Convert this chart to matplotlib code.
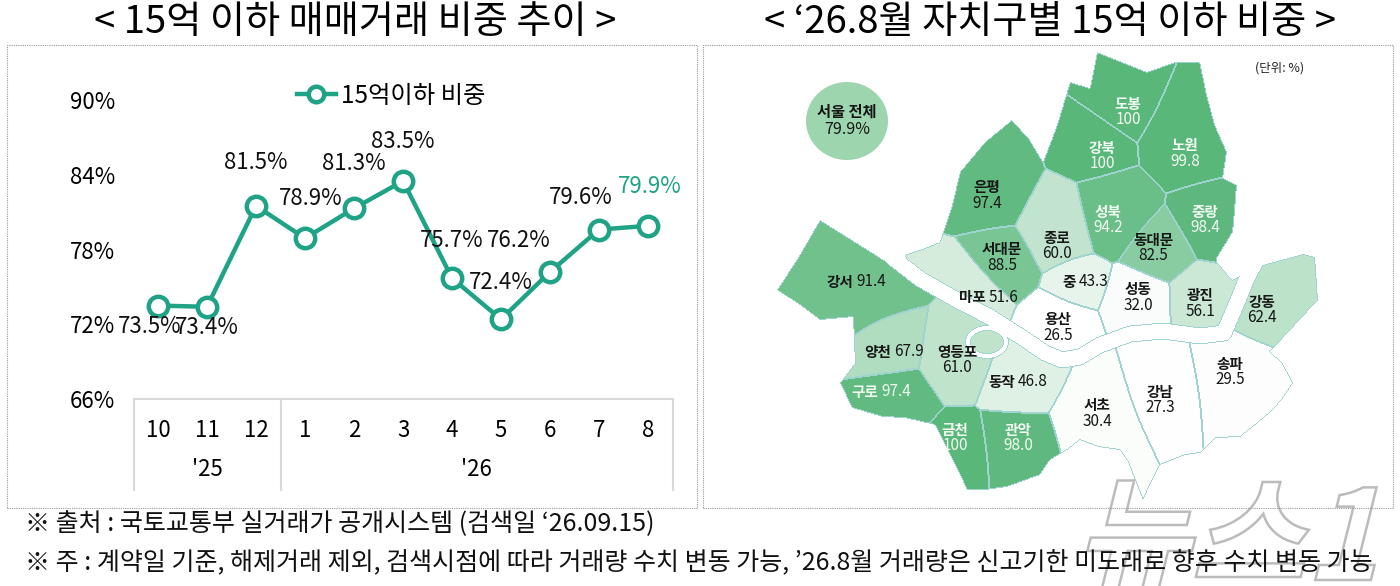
import numpy as np
import matplotlib
matplotlib.use("Agg")
import matplotlib.pyplot as plt
from matplotlib.path import Path
from matplotlib.colors import LinearSegmentedColormap, PowerNorm, to_rgba
from matplotlib.patches import Ellipse, Rectangle, PathPatch
from matplotlib.textpath import TextPath
from matplotlib.font_manager import FontProperties
from matplotlib.transforms import Affine2D

plt.rcParams['font.family'] = ['Noto Sans CJK KR', 'DejaVu Sans']

# ---- data: left chart ----
months = ['10', '11', '12', '1', '2', '3', '4', '5', '6', '7', '8']
years = ["'25", "'26"]
share = [73.5, 73.4, 81.5, 78.9, 81.3, 83.5, 75.7, 72.4, 76.2, 79.6, 79.9]
yticks = [66, 72, 78, 84, 90]

# ---- data: right map ----
districts = ['도봉', '노원', '강북', '은평', '성북', '중랑', '종로', '서대문', '동대문',
             '강서', '중', '마포', '성동', '광진', '강동', '용산', '양천', '영등포',
             '송파', '동작', '구로', '서초', '강남', '금천', '관악']
district_share = [100, 99.8, 100, 97.4, 94.2, 98.4, 60.0, 88.5, 82.5,
                  91.4, 43.3, 51.6, 32.0, 56.1, 62.4, 26.5, 67.9, 61.0,
                  29.5, 46.8, 97.4, 30.4, 27.3, 100, 98.0]
seoul_total = 79.9

# ---- layout (pixel coordinates of the 1400x586 canvas) ----
W, H = 1400, 586
teal = '#1fa386'

label_xy = {'도봉': (1128, 112), '노원': (1185, 153), '강북': (1102, 156), '은평': (987, 195),
            '성북': (1108, 220), '중랑': (1205, 220), '종로': (1057, 246), '서대문': (1002, 257),
            '동대문': (1153, 248), '강서': (855, 282), '중': (1078, 282), '마포': (988, 297),
            '성동': (1138, 297), '광진': (1200, 303), '강동': (1262, 310), '용산': (1058, 327),
            '양천': (893, 352), '영등포': (957, 360), '송파': (1230, 372), '동작': (1017, 382),
            '구로': (880, 392), '서초': (1097, 413), '강남': (1160, 400), '금천': (955, 438),
            '관악': (1018, 438)}
seed_xy = {'도봉': (1123, 100), '노원': (1190, 135), '강북': (1092, 145), '은평': (990, 190),
           '성북': (1110, 212), '중랑': (1213, 222), '종로': (1057, 225), '서대문': (1000, 258),
           '동대문': (1160, 252), '강서': (855, 280), '중': (1078, 282), '마포': (965, 290),
           '성동': (1140, 302), '광진': (1200, 300), '강동': (1275, 305), '용산': (1060, 330),
           '양천': (888, 347), '영등포': (955, 357), '송파': (1240, 390), '동작': (1022, 382),
           '구로': (895, 398), '서초': (1100, 425), '강남': (1165, 400), '금천': (958, 455),
           '관악': (1020, 448)}
seed_bias = {'강서': 20, '송파': 12, '서초': 12, '노원': 8, '은평': 8, '강남': 5, '관악': 5,
             '종로': 6, '성북': 4, '마포': 4, '중': -8, '동대문': -3}
south_bank = {'강서', '양천', '구로', '영등포', '금천', '관악', '동작', '서초', '강남', '송파', '강동'}
inline_names = {'강서', '중', '마포', '양천', '동작', '구로'}
light_text = {'도봉', '강북', '노원', '성북', '중랑', '구로', '금천', '관악'}

outline = [(777, 290), (798, 258), (820, 220), (868, 250), (912, 278), (905, 255), (925, 248),
           (940, 242), (952, 205), (960, 172), (985, 142), (1012, 120), (1030, 140), (1043, 162),
           (1057, 125), (1070, 82), (1090, 88), (1097, 52), (1147, 72), (1175, 62), (1200, 62),
           (1207, 95), (1215, 125), (1227, 152), (1223, 178), (1237, 185), (1235, 210),
           (1233, 232), (1217, 258), (1217, 262), (1232, 280), (1263, 265), (1303, 254),
           (1315, 257), (1318, 300), (1307, 312), (1270, 352), (1282, 362), (1293, 383),
           (1283, 398), (1273, 410), (1255, 425), (1240, 437), (1215, 438), (1200, 453),
           (1185, 455), (1160, 465), (1150, 485), (1143, 500), (1135, 480), (1128, 462),
           (1120, 450), (1098, 447), (1080, 440), (1067, 450), (1050, 460), (1040, 475),
           (1007, 487), (985, 490), (967, 490), (960, 475), (945, 445), (935, 425), (905, 418),
           (883, 417), (852, 408), (840, 383), (855, 363), (853, 317), (820, 320), (800, 305)]
river = [(893, 258), (920, 279), (955, 299), (990, 317), (1023, 338), (1045, 353), (1062, 360),
         (1080, 357), (1100, 345), (1130, 334), (1163, 331), (1200, 336), (1224, 333),
         (1236, 305), (1247, 278), (1262, 250)]
island = (987, 342, 17, 12)


def fx(px):
    return px / W


def fy(py):
    return 1 - py / H


fig = plt.figure(figsize=(14, 5.86), dpi=100)

# titles and panels
fig.text(fx(355), fy(22), '< 15억 이하 매매거래 비중 추이 >', fontsize=27.5, ha='center', va='center')
fig.text(fx(1050), fy(22), '< ‘26.8월 자치구별 15억 이하 비중 >', fontsize=27.5, ha='center', va='center')
for x0, x1 in [(7, 697), (703, 1393)]:
    fig.patches.append(Rectangle((fx(x0), fy(508)), fx(x1 - x0), (508 - 45) / H,
                                 transform=fig.transFigure, fill=False, ec='#9a9a9a',
                                 lw=0.8, ls=(0, (1, 1))))

# ---- left: line chart ----
ax = fig.add_axes([fx(133.5), fy(399), fx(672.5 - 133.5), (399 - 100) / H])
ax.set_xlim(-0.5, 10.5)
ax.set_ylim(66, 90)
for s in ax.spines.values():
    s.set_visible(False)
ax.set_xticks([])
ax.set_yticks(yticks, [f'{t}%' for t in yticks])
ax.tick_params(axis='y', length=0, pad=13, labelsize=16)

x = np.arange(len(months))
ax.plot(x, share, color=teal, lw=3.2, marker='o', ms=14, mfc='white', mec=teal, mew=3.2,
        clip_on=False, zorder=3, label='15억이하 비중')

label_off = [(-8, 21), (0, 21), (0, -43), (6, -40), (0, -45), (0, -39), (0, -38), (0, -37),
             (-31, -31), (-18, -32), (2, -39)]
for i, v in enumerate(share):
    dx, dy = label_off[i]
    col = teal if i == len(share) - 1 else '#111111'
    ax.annotate(f'{v}%', (x[i], v), xytext=(dx * 0.72, -dy * 0.72), textcoords='offset points',
                ha='center', va='center', fontsize=16, color=col, annotation_clip=False)

# category "table" under the axis
xt = ax.get_xaxis_transform()
ax.axhline(66, color='#d9d9d9', lw=1.5, clip_on=False)
for xv in [-0.5, 2.5, 10.5]:
    ax.plot([xv, xv], [0, -0.304], transform=xt, color='#d9d9d9', lw=1.5, clip_on=False)
for i, m in enumerate(months):
    ax.text(i, -0.107, m, transform=xt, ha='center', va='center', fontsize=16)
ax.text(1, -0.237, years[0], transform=xt, ha='center', va='center', fontsize=16)
ax.text(6.5, -0.237, years[1], transform=xt, ha='center', va='center', fontsize=16)

ax.legend(loc='center left', bbox_to_anchor=(fx(297), fy(96)), bbox_transform=fig.transFigure,
          frameon=False, fontsize=17.5, handlelength=1.6, handletextpad=0.2, borderpad=0,
          borderaxespad=0, markerscale=0.8)

# ---- right: district map ----
mx = fig.add_axes([fx(703), fy(508), fx(690), (508 - 45) / H])
mx.set_xlim(703, 1393)
mx.set_ylim(508, 45)
mx.axis('off')

gx, gy = np.meshgrid(np.arange(703, 1393) + 0.5, np.arange(45, 508) + 0.5)
inside = Path(outline).contains_points(np.column_stack([gx.ravel(), gy.ravel()])).reshape(gx.shape)

# distance to the river and which bank each pixel is on
rd = np.full(gx.shape, np.inf)
south = np.zeros(gx.shape, bool)
for (ax0, ay0), (ax1, ay1) in zip(river[:-1], river[1:]):
    vx, vy = ax1 - ax0, ay1 - ay0
    t = np.clip(((gx - ax0) * vx + (gy - ay0) * vy) / (vx * vx + vy * vy), 0, 1)
    dseg = np.hypot(gx - ax0 - t * vx, gy - ay0 - t * vy)
    closer = dseg < rd
    south[closer] = (vx * (gy - ay0) - vy * (gx - ax0))[closer] > 0
    rd = np.minimum(rd, dseg)

seeds = np.array([seed_xy[d] for d in districts], dtype=float)
bias = np.array([seed_bias.get(d, 0) for d in districts], dtype=float)
is_south = np.array([d in south_bank for d in districts])
dist = np.hypot(gx[..., None] - seeds[:, 0], gy[..., None] - seeds[:, 1]) - bias
dist[south[..., None] != is_south[None, None, :]] = np.inf
lab = np.argmin(dist, axis=2)

lab[~inside] = -1
lab[rd < 7.5] = -1
ix, iy, irx, iry = island
e_out = ((gx - ix) / (irx + 4)) ** 2 + ((gy - iy) / (iry + 4)) ** 2 < 1
e_in = ((gx - ix) / irx) ** 2 + ((gy - iy) / iry) ** 2 < 1
lab[e_out] = -1
lab[e_in] = districts.index('영등포')

cmap = LinearSegmentedColormap.from_list('grn', ['#ffffff', '#5ab77a'])
norm = PowerNorm(1.3, vmin=26, vmax=100)
fill = cmap(norm(np.array(district_share)))
img = np.zeros(lab.shape + (4,))
img[lab >= 0] = fill[lab[lab >= 0]]

edge = np.zeros(lab.shape, bool)
edge[1:, :] |= lab[1:, :] != lab[:-1, :]
edge[:-1, :] |= lab[:-1, :] != lab[1:, :]
edge[:, 1:] |= lab[:, 1:] != lab[:, :-1]
edge[:, :-1] |= lab[:, :-1] != lab[:, 1:]
edge &= lab >= 0
img[edge] = to_rgba('#9fd3cf')
mx.imshow(img, extent=(703, 1393, 508, 45), interpolation='nearest', zorder=1)

for d, v in zip(districts, district_share):
    lx, ly = label_xy[d]
    col = '#f2faf3' if d in light_text else '#161616'
    vs = '100' if v == 100 else f'{v:.1f}'
    if d in inline_names:
        mx.text(lx - 2, ly, d, ha='right', va='center', fontsize=10.5, fontweight='bold', color=col)
        mx.text(lx + 1, ly, vs, ha='left', va='center', fontsize=11, color=col)
    else:
        mx.text(lx, ly - 8, d, ha='center', va='center', fontsize=10.5, fontweight='bold', color=col)
        mx.text(lx, ly + 8, vs, ha='center', va='center', fontsize=11, color=col)

mx.add_patch(Ellipse((847, 121), 82, 78, fc='#9dd5ae', ec='none', zorder=2))
mx.text(847, 112, '서울 전체', ha='center', va='center', fontsize=11, fontweight='bold', color='#161616')
mx.text(847, 130, f'{seoul_total}%', ha='center', va='center', fontsize=11.5, color='#161616')
mx.text(1280, 68, '(단위: %)', ha='center', va='center', fontsize=9, color='#222222')

# ---- watermark (drawn under the footer text) ----
ov = fig.add_axes([0, 0, 1, 1])
ov.set_xlim(0, W)
ov.set_ylim(0, H)
ov.axis('off')
tp = TextPath((0, 0), '뉴스1', size=125, prop=FontProperties(family='Noto Sans CJK KR', weight='bold'))
wm = Affine2D().skew_deg(14, 0).translate(1075, H - 580) + ov.transData
ov.add_patch(PathPatch(tp, transform=wm, fc='white', ec='#b0b0b0', lw=1.8, alpha=0.85))

# ---- footer ----
fig.text(fx(25), fy(524), '※ 출처 : 국토교통부 실거래가 공개시스템 (검색일 ‘26.09.15)',
         fontsize=18, ha='left', va='center', color='#111111')
fig.text(fx(25), fy(562), '※ 주 : 계약일 기준, 해제거래 제외, 검색시점에 따라 거래량 수치 변동 가능, '
         '’26.8월 거래량은 신고기한 미도래로 향후 수치 변동 가능',
         fontsize=18, ha='left', va='center', color='#111111')

fig.savefig('out.png', dpi=100)
